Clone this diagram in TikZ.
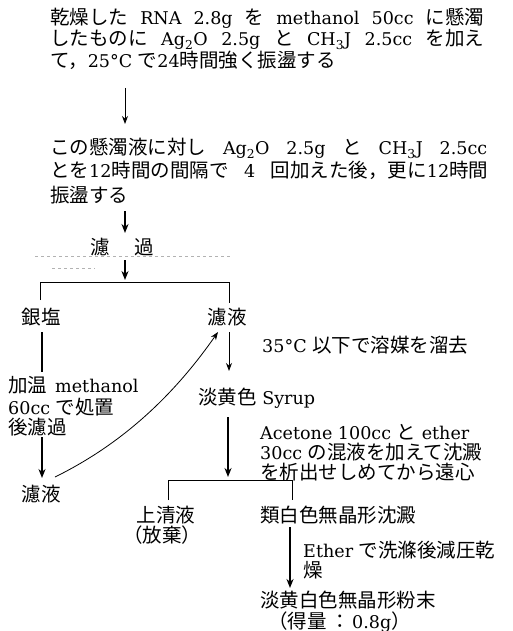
\documentclass[tikz,border=0pt]{standalone}
\usepackage{fontspec}
\setmainfont{DejaVu Serif}[Scale=0.9]
\newfontfamily\jp{Noto Sans CJK JP}
\usetikzlibrary{arrows.meta}
\newcommand\J[1]{{\jp #1}}
\newcommand\fs{\fontsize{19.5}{22}\selectfont}
\tikzset{
  txt/.style={anchor=base west, inner sep=0pt, font=\fs, text height=14.5pt, text depth=4pt},
  ctxt/.style={anchor=base, inner sep=0pt, font=\fs, text height=14.5pt, text depth=4pt},
  thinarrow/.style={-{Stealth[length=8pt,width=6pt]}, line width=0.9pt},
  boldarrow/.style={-{Stealth[length=9pt,width=7pt]}, line width=2.4pt},
  boldbar/.style={line width=2.6pt},
  bar/.style={line width=0.9pt},
  faint/.style={gray!60, dashed, line width=0.6pt}
}
\begin{document}
\begin{tikzpicture}[x=1pt,y=-1pt]
\useasboundingbox (0,0) rectangle (512,631);
% first block
\node[txt] (l1) at (50,25) {\makebox[434pt][s]{\J{乾燥した} RNA 2.8g \J{を} methanol 50cc \J{に懸濁}}};
\node[txt] (l2) at (50,46) {\makebox[434pt][s]{\J{したものに} Ag\textsubscript{2}O 2.5g \J{と} CH\textsubscript{3}J 2.5cc \J{を加え}}};
\node[txt] (l3) at (50,68) {\J{て，}25°C \J{で}24\J{時間強く振盪する}};
\coordinate (a1s) at (125,88);
\coordinate (a1e) at (125,124);
\draw[thinarrow] (a1s) -- (a1e);
% second block
\node[txt] (l4) at (50,155) {\makebox[437pt][s]{\J{この懸濁液に対し} Ag\textsubscript{2}O 2.5g \J{と} CH\textsubscript{3}J 2.5cc}};
\node[txt] (l5) at (50,178) {\makebox[438pt][s]{\J{とを}12\J{時間の間隔で}\hspace{5pt plus 1fil}4\hspace{5pt plus 1fil}\J{回加えた後，更に}12\J{時間}}};
\node[txt] (l6) at (50,202) {\J{振盪する}};
\coordinate (a2s) at (125,211);
\coordinate (a2e) at (125,233);
\draw[boldarrow] (a2s) -- (a2e);
\node[txt] (filt) at (90,254) {\J{濾}\hspace{25pt}\J{過}};
\coordinate (f1) at (35,256);
\coordinate (f2) at (230,256);
\draw[faint] (f1) -- (f2);
\coordinate (f3) at (52,268);
\coordinate (f4) at (95,268);
\draw[faint] (f3) -- (f4);
\coordinate (a3s) at (125,260);
\coordinate (a3e) at (125,280);
\draw[boldarrow] (a3s) -- (a3e);
% split
\coordinate (hl) at (40,282);
\coordinate (hr) at (229,282);
\coordinate (vl) at (40,300);
\coordinate (vr) at (229,303);
\draw[bar] (vl) -- (hl) -- (hr) -- (vr);
\node[ctxt] (ag) at (41,324) {\J{銀塩}};
\node[ctxt] (fr) at (227,324) {\J{濾液}};
% left column
\coordinate (b1s) at (42,332);
\coordinate (b1e) at (42,372);
\draw[boldbar] (b1s) -- (b1e);
\node[txt] (m1) at (8,392) {\J{加温}\hspace{8pt}methanol};
\node[txt] (m2) at (8,414) {60cc \J{で処置}};
\node[txt] (m3) at (8,434) {\J{後濾過}};
\coordinate (b2s) at (42,437);
\coordinate (b2e) at (42,478);
\draw[boldarrow] (b2s) -- (b2e);
\node[ctxt] (fl) at (41,501) {\J{濾液}};
\coordinate (cs) at (55,477);
\coordinate (ce) at (218,332);
\draw[thinarrow, line width=0.8pt] (cs) .. controls (120,445) and (172,398) .. (ce);
% right column
\coordinate (r1s) at (229,332);
\coordinate (r1e) at (229,371);
\draw[thinarrow] (r1s) -- (r1e);
\node[txt] (dist) at (262,352) {35°C \J{以下で溶媒を溜去}};
\node[txt] (syr) at (198,404) {\J{淡黄色} Syrup};
\coordinate (r2s) at (228,417);
\coordinate (r2e) at (228,477);
\draw[boldarrow] (r2s) -- (r2e);
\node[txt] (ac1) at (260,439) {Acetone 100cc \J{と} ether};
\node[txt] (ac2) at (260,459) {30cc \J{の混液を加えて沈澱}};
\node[txt] (ac3) at (260,479) {\J{を析出せしめてから遠心}};
\coordinate (h2l) at (168,480);
\coordinate (h2r) at (292,480);
\coordinate (v2l) at (168,500);
\coordinate (v2r) at (292,500);
\draw[bar] (v2l) -- (h2l) -- (h2r) -- (v2r);
\node[ctxt] (sup1) at (166,522) {\J{上清液}};
\node[ctxt] (sup2) at (162,542) {\J{（放棄）}};
\node[txt] (ppt) at (260,522) {\J{類白色無晶形沈澱}};
\coordinate (r3s) at (290,527);
\coordinate (r3e) at (290,588);
\draw[boldarrow] (r3s) -- (r3e);
\node[txt] (eth1) at (303,557) {Ether \J{で洗滌後減圧乾}};
\node[txt] (eth2) at (303,577) {\J{燥}};
\node[txt] (prod) at (260,607) {\J{淡黄白色無晶形粉末}};
\node[txt] (yld) at (268,628) {\J{（得量}\hspace{4pt}\J{：}\hspace{2pt}0.8g\J{）}};
\end{tikzpicture}
\end{document}
